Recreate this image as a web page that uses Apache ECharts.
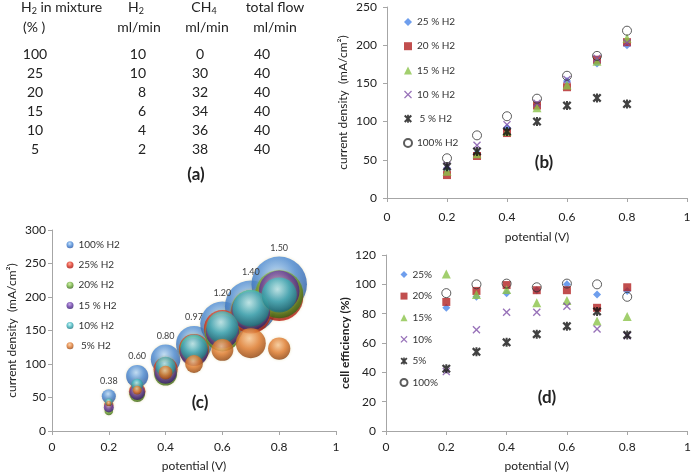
<!DOCTYPE html>
<html>
<head>
<meta charset="utf-8">
<script src="https://cdn.jsdelivr.net/npm/echarts@6/dist/echarts.min.js"></script>
<style>
html,body{margin:0;padding:0;background:#fff;}
#main{width:694px;height:474px;}
</style>
</head>
<body>
<div id="main"></div>
<script>
// ---------- data ----------
// table (a)
const tblH2Percent = ['100', '25', '20', '15', '10', '5'];
const tblH2Flow = ['10', '10', '8', '6', '4', '2'];
const tblCH4Flow = ['0', '30', '32', '34', '36', '38'];
const tblTotalFlow = ['40', '40', '40', '40', '40', '40'];

// potentials (V)
const potentials = [0.2, 0.3, 0.4, 0.5, 0.6, 0.7, 0.8];
const xTicks = [0, 0.2, 0.4, 0.6, 0.8, 1];

// current density (mA/cm2) - panels (b) and (c)
const cd25 = [39, 59, 92, 122, 153, 176, 200];
const cd20 = [30, 55, 85, 121, 145, 181, 204];
const cd15 = [35, 58, 87, 118, 148, 179, 209];
const cd10 = [43, 69, 96, 124, 155, 183, 203];
const cd5 = [41, 61, 87, 100, 121, 131, 123];
const cd100 = [52, 82, 107, 130, 160, 186, 219];

// bubble sizes - panel (c)
const bs100 = [0.38, 0.60, 0.80, 0.97, 1.20, 1.40, 1.50];
const bs25 = [0.25, 0.45, 0.65, 0.82, 1.00, 1.10, 1.30];
const bs20 = [0.23, 0.42, 0.62, 0.78, 0.95, 1.05, 1.30];
const bs15 = [0.27, 0.42, 0.60, 0.76, 0.90, 1.05, 1.10];
const bs10 = [0.20, 0.32, 0.54, 0.72, 0.86, 0.99, 0.95];
const bs5 = [0.14, 0.24, 0.37, 0.48, 0.59, 0.81, 0.60];

// cell efficiency (%) - panel (d)
const ef25 = [84, 91.5, 94, 96, 100, 93, 95.5];
const ef20 = [88, 95.5, 99.5, 96, 96, 84, 98];
const ef15 = [107, 93, 96.5, 87.5, 89, 75, 78];
const ef10 = [40.5, 69, 81, 81, 85, 69.5, 65];
const ef5 = [42.5, 54, 60.5, 66, 71.5, 81.5, 65.5];
const ef100 = [94, 100, 100.5, 98, 100.5, 100, 91.5];

// ---------- helpers ----------
const FONT = 'Lato';
const BUBBLE_SCALE = 37; // px diameter per unit of bubble size
const pts = (ys) => potentials.map((x, i) => [x, ys[i]]);
const bub = (ys, ss) => potentials.map((x, i) => [x, ys[i], ss[i]]);

const crossPath = 'path://M1.2,0 L5,3.8 L8.8,0 L10,1.2 L6.2,5 L10,8.8 L8.8,10 L5,6.2 L1.2,10 L0,8.8 L3.8,5 L0,1.2 Z';
const starPath = 'path://M1.8,0 L5,3.2 L8.2,0 L10,1.8 L6.8,5 L10,8.2 L8.2,10 L5,6.8 L1.8,10 L0,8.2 L3.2,5 L0,1.8 Z M3.9,0 L6.1,0 L6.1,10 L3.9,10 Z';

function ball(light, base, dark, edge) {
  return {
    type: 'radial', x: 0.45, y: 0.34, r: 0.7,
    colorStops: [
      { offset: 0, color: light },
      { offset: 0.5, color: base },
      { offset: 0.88, color: dark },
      { offset: 1, color: edge }
    ]
  };
}

const axisLineStyle = { color: '#a6a6a6', width: 1 };
function xAxisCfg(grid, labelMargin, nameGap) {
  return {
    type: 'value', gridIndex: grid, min: 0, max: 1, interval: 0.2,
    axisLine: { show: true, lineStyle: axisLineStyle },
    axisTick: { show: true, length: 4, lineStyle: axisLineStyle },
    splitLine: { show: false },
    axisLabel: { color: '#222', fontSize: 12, fontFamily: FONT, margin: labelMargin,
      formatter: v => String(xTicks.find(t => Math.abs(t - v) < 1e-6) ?? v) },
    name: 'potential (V)', nameLocation: 'middle', nameGap: nameGap,
    nameTextStyle: { color: '#222', fontSize: 12, fontFamily: FONT }
  };
}
function yAxisCfg(grid, max, interval, labelMargin, name, nameGap, bold) {
  return {
    type: 'value', gridIndex: grid, min: 0, max: max, interval: interval,
    axisLine: { show: true, lineStyle: axisLineStyle },
    axisTick: { show: true, length: 4, lineStyle: axisLineStyle },
    splitLine: { show: false },
    axisLabel: { color: '#222', fontSize: 12, fontFamily: FONT, margin: labelMargin },
    name: name, nameLocation: 'middle', nameGap: nameGap,
    nameTextStyle: { color: '#222', fontSize: 12, fontFamily: FONT, fontWeight: bold ? 'bold' : 'normal' }
  };
}

// marker styles for (b) and (d)
const mk = {
  p25: { symbol: 'diamond', symbolSize: 8, itemStyle: { color: '#4a86e8' } },
  p20: { symbol: 'rect', symbolSize: 8, itemStyle: { color: '#b22222' } },
  p15: { symbol: 'triangle', symbolSize: 9, itemStyle: { color: '#8bc34a' } },
  p10: { symbol: crossPath, symbolSize: 8, itemStyle: { color: '#7e4fa8' } },
  p5: { symbol: starPath, symbolSize: 9, itemStyle: { color: '#111' } },
  p100: { symbol: 'circle', symbolSize: 9, itemStyle: { color: 'rgba(255,255,255,0)', borderColor: '#333', borderWidth: 1 } }
};
function sc(name, grid, data, style) {
  return Object.assign({ type: 'scatter', name: name, xAxisIndex: grid, yAxisIndex: grid, data: data, z: 3 }, style);
}

// bubble styles (c)
const bc = {
  b100: ball('#b8dafc', '#4a8ad8', '#2a5cae', '#1a3f80'),
  b25: ball('#ff9a88', '#e0301e', '#a01510', '#e01a10'),
  b20: ball('#c8ec98', '#72b23e', '#3e7018', '#2a4a10'),
  b15: ball('#b898e4', '#6a3aa8', '#3a1e78', '#24104c'),
  b10: ball('#c0f4f4', '#3fb5bf', '#1e7a86', '#145560'),
  b5: ball('#f9c898', '#e07a30', '#a04c14', '#6e300a')
};
function bubSeries(name, data, color) {
  return {
    type: 'scatter', name: name, xAxisIndex: 1, yAxisIndex: 1, data: data,
    symbol: 'circle', symbolSize: v => v[2] * BUBBLE_SCALE,
    itemStyle: { color: color, shadowBlur: 3, shadowColor: 'rgba(190,170,60,0.35)' },
    label: { show: false },
    z: 3
  };
}

// ---------- table graphic (a) ----------
const rich = {
  n: { fontSize: 14, fontFamily: FONT, color: '#222' },
  s: { fontSize: 9, fontFamily: FONT, color: '#222', padding: [8, 0, 0, 0] }
};
function txt(text, x, y, align, extra) {
  return {
    type: 'text', silent: true,
    style: Object.assign({ text: text, x: x, y: y, textAlign: align, textVerticalAlign: 'middle',
      fontSize: 14, fontFamily: FONT, fill: '#222', rich: rich }, extra || {})
  };
}
const graphics = [
  txt('{n|H}{s|2}{n| in mixture}', 21, 7, 'left'),
  txt('(% )', 23, 27, 'left'),
  txt('{n|H}{s|2}', 136, 7, 'center'),
  txt('ml/min', 139, 27, 'center'),
  txt('{n|CH}{s|4}', 204, 7, 'center'),
  txt('ml/min', 207, 27, 'center'),
  txt('total flow', 275, 7, 'center'),
  txt('ml/min', 275, 27, 'center')
];
for (let i = 0; i < tblH2Percent.length; i++) {
  const y = 54 + i * 19;
  graphics.push(txt(tblH2Percent[i], 35, y, 'center'));
  graphics.push(txt(tblH2Flow[i], 146, y, 'right'));
  graphics.push(txt(tblCH4Flow[i], 200, y, 'center'));
  graphics.push(txt(tblTotalFlow[i], 262, y, 'center'));
}
const boldLbl = { fontSize: 17, fontWeight: 'bold' };
graphics.push(txt('(a)', 196, 175, 'center', boldLbl));
graphics.push(txt('(b)', 544, 163, 'center', boldLbl));
graphics.push(txt('(c)', 200, 403, 'center', boldLbl));
graphics.push(txt('(d)', 547, 398, 'center', boldLbl));

// ---------- chart ----------
const chart = echarts.init(document.getElementById('main'), null, { renderer: 'canvas' });
const legendText = { fontSize: 10, fontFamily: FONT, color: '#333' };
const option = {
  animation: false,
  backgroundColor: '#fff',
  textStyle: { fontFamily: FONT },
  grid: [
    { left: 387, top: 7, width: 300, height: 191 },
    { left: 52, top: 230, width: 284, height: 201 },
    { left: 386, top: 255, width: 302, height: 176 }
  ],
  xAxis: [xAxisCfg(0, 13, 33), xAxisCfg(1, 10, 29), xAxisCfg(2, 10, 29)],
  yAxis: [
    yAxisCfg(0, 250, 50, 10, 'current density  (mA/cm²)', 38, false),
    yAxisCfg(1, 300, 50, 6, 'current density  (mA/cm²)', 34, false),
    yAxisCfg(2, 120, 20, 10, 'cell efficiency (%)', 31, true)
  ],
  legend: [
    { orient: 'vertical', left: 398, top: 12, itemWidth: 8, itemHeight: 8, itemGap: 14.2,
      textStyle: legendText, selectedMode: false,
      data: ['25 % H2', '20 % H2', '15 % H2', '10 % H2', ' 5 % H2', '100% H2'] },
    { orient: 'vertical', left: 61.5, top: 234.8, itemWidth: 7, itemHeight: 7, itemGap: 10.2,
      textStyle: legendText, selectedMode: false,
      data: ['100%\u00a0H2', '25% H2', '20% H2', '15\u00a0% H2', '10% H2', ' 5% H2'] },
    { orient: 'vertical', left: 394.5, top: 264.5, itemWidth: 7, itemHeight: 7, itemGap: 11.6,
      textStyle: legendText, selectedMode: false,
      data: ['25%', '20%', '15%', '10%', '5%', '100%'] }
  ],
  graphic: graphics,
  series: [
    // (b)
    sc('25 % H2', 0, pts(cd25), mk.p25),
    sc('20 % H2', 0, pts(cd20), mk.p20),
    sc('15 % H2', 0, pts(cd15), mk.p15),
    sc('10 % H2', 0, pts(cd10), mk.p10),
    sc(' 5 % H2', 0, pts(cd5), mk.p5),
    sc('100% H2', 0, pts(cd100), mk.p100),
    // (c)
    bubSeries('100%\u00a0H2', bub(cd100, bs100), bc.b100),
    bubSeries('25% H2', bub(cd25, bs25), bc.b25),
    bubSeries('20% H2', bub(cd20, bs20), bc.b20),
    bubSeries('15\u00a0% H2', bub(cd15, bs15), bc.b15),
    bubSeries('10% H2', bub(cd10, bs10), bc.b10),
    bubSeries(' 5% H2', bub(cd5, bs5), bc.b5),
    // (d)
    sc('25%', 2, pts(ef25), mk.p25),
    sc('20%', 2, pts(ef20), mk.p20),
    sc('15%', 2, pts(ef15), mk.p15),
    sc('10%', 2, pts(ef10), mk.p10),
    sc('5%', 2, pts(ef5), mk.p5),
    sc('100%', 2, pts(ef100), mk.p100)
  ]
};
chart.setOption(option);

// bubble size labels above the 100% H2 bubbles, placed through the chart's own scales
const bubbleLabels = potentials.map((x, i) => {
  const p = chart.convertToPixel({ gridIndex: 1 }, [x, cd100[i]]);
  const r = bs100[i] * BUBBLE_SCALE / 2;
  return {
    type: 'text', silent: true, z: 100,
    style: { text: bs100[i].toFixed(2), x: p[0], y: p[1] - r - 4, textAlign: 'center',
      textVerticalAlign: 'bottom', fontSize: 9, fontFamily: FONT, fill: '#404040' }
  };
});
chart.setOption({ graphic: graphics.concat(bubbleLabels) });
</script>
</body>
</html>
